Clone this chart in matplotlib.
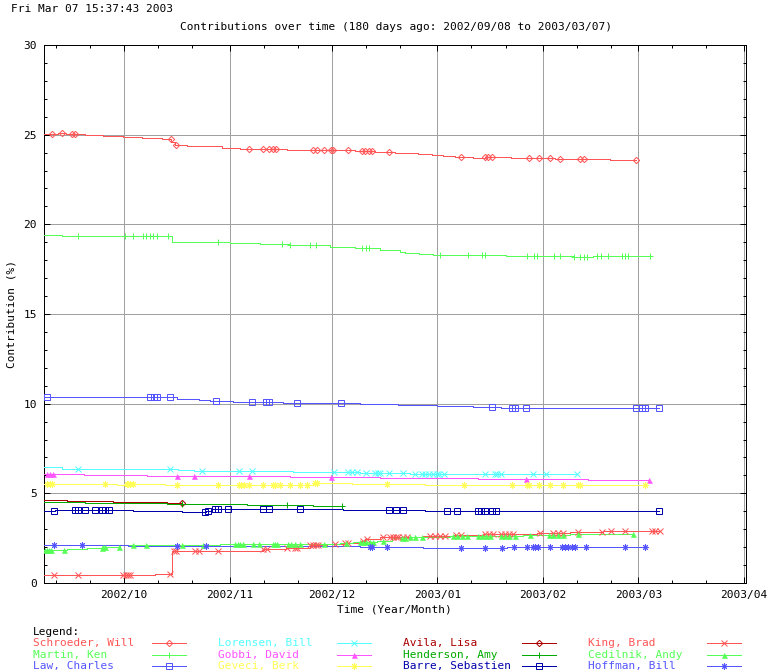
import numpy as np
import matplotlib
matplotlib.use("Agg")
import matplotlib.pyplot as plt
import matplotlib.dates as mdates
from matplotlib.lines import Line2D
from matplotlib.ticker import FixedLocator
from datetime import datetime

plt.rcParams['font.family'] = ['DejaVu Sans Mono']
FS = 8
LW = 0.72  # one pixel at 100 dpi

START = datetime(2002, 9, 8)

# ---------------- data (days since 2002/09/08, contribution %) ----------------
authors = ["Schroeder, Will", "Martin, Ken", "Law, Charles",
           "Lorensen, Bill", "Gobbi, David", "Geveci, Berk",
           "Avila, Lisa", "Henderson, Amy", "Barre, Sebastien",
           "King, Brad", "Cedilnik, Andy", "Hoffman, Bill"]

schroeder_days = [-0.5, 3.6, 6.0, 11.5, 16.8, 22.7, 28.3, 34.1, 36.8, 37.9, 41.5, 51.7, 57.0, 70.8,
                  90.8, 96.7, 102.5, 106.0, 109.3, 113.4, 116.6, 120.1, 125.4, 128.9, 136.6, 149.5,
                  165.6, 173.3]
schroeder_vals = [25.02, 25.08, 25.02, 24.97, 24.91, 24.86, 24.80, 24.75, 24.60, 24.43, 24.36, 24.23,
                  24.19, 24.13, 24.08, 24.04, 24.00, 23.96, 23.91, 23.85, 23.80, 23.74, 23.69, 23.74,
                  23.69, 23.63, 23.58, 23.58]
schroeder_marks = [1.8, 4.7, 7.6, 8.6, 36.7, 38.4, 59.7, 63.8, 65.5, 66.7, 67.6, 78.5, 79.6, 81.7,
                   83.7, 84.3, 88.7, 92.8, 93.7, 94.9, 95.8, 100.8, 121.9, 129.1, 129.9, 131.1, 142.0,
                   144.9, 148.1, 151.1, 156.9, 158.1, 173.3]

martin_days = [-0.5, 4.8, 37.1, 54.1, 62.9, 71.7, 83.4, 90.8, 98.1, 104.0, 105.5, 109.7, 113.7,
               135.1, 154.8, 160.6, 177.4]
martin_vals = [19.38, 19.33, 19.02, 18.96, 18.90, 18.82, 18.74, 18.66, 18.55, 18.44, 18.39, 18.33,
               18.28, 18.22, 18.17, 18.22, 18.22]
martin_marks = [9.6, 23.3, 25.6, 28.6, 29.4, 30.6, 31.6, 32.8, 36.0, 50.6, 69.4, 71.7, 77.6, 79.3,
                92.8, 94.0, 94.9, 115.8, 124.0, 128.0, 129.0, 141.2, 143.3, 144.1, 149.1, 151.0,
                155.1, 157.0, 158.1, 158.9, 162.0, 163.1, 165.1, 169.1, 170.2, 171.0, 177.3]

law_days = [-0.5, 38.5, 45.0, 48.2, 55.0, 69.7, 92.3, 103.4, 114.9, 125.4, 133.6, 180.1]
law_vals = [10.36, 10.27, 10.21, 10.13, 10.08, 10.02, 9.97, 9.91, 9.85, 9.80, 9.74, 9.74]
law_marks = [0.5, 30.6, 31.8, 32.7, 36.6, 49.9, 60.6, 64.7, 65.6, 73.8, 86.8, 131.1, 136.9, 137.8,
             141.1, 173.2, 175.0, 176.0, 180.1]

lorensen_days = [-0.5, 4.8, 22.7, 38.8, 43.5, 72.6, 92.3, 106.9, 156.0]
lorensen_vals = [6.45, 6.38, 6.34, 6.29, 6.23, 6.17, 6.12, 6.06, 6.06]
lorensen_marks = [9.6, 36.6, 45.8, 56.8, 60.6, 84.6, 88.7, 89.9, 91.4, 94.0, 96.6, 97.5, 98.1, 100.8,
                  104.9, 108.4, 110.4, 111.4, 112.6, 113.8, 114.8, 115.5, 117.0, 128.9, 131.9, 132.5,
                  133.8, 143.1, 146.9, 156.0]

gobbi_days = [-0.5, 11.2, 29.7, 71.7, 98.1, 126.9, 159.2, 177.2]
gobbi_vals = [6.06, 6.01, 5.95, 5.90, 5.84, 5.78, 5.73, 5.73]
gobbi_marks = [0.4, 1.3, 2.2, 38.6, 43.6, 59.8, 83.9, 141.1, 177.2]

geveci_days = [-0.5, 20.9, 23.3, 28.6, 35.0, 78.5, 89.9, 111.3, 176.0]
geveci_vals = [5.50, 5.45, 5.52, 5.50, 5.45, 5.56, 5.50, 5.45, 5.45]
geveci_marks = [0.4, 1.3, 1.8, 17.4, 23.8, 24.2, 24.7, 25.7, 38.6, 50.7, 56.7, 57.3, 58.2, 59.7,
                63.9, 66.7, 67.3, 68.8, 71.7, 74.6, 76.6, 79.0, 79.6, 100.1, 122.8, 137.0, 141.2,
                142.0, 144.8, 148.0, 151.9, 156.2, 156.8, 176.0]

avila_days = [-0.5, 6.3, 19.8, 35.6, 39.9]
avila_vals = [4.61, 4.56, 4.50, 4.45, 4.45]
avila_marks = [39.9]

henderson_days = [-0.5, 11.5, 35.6, 59.1, 78.5, 86.9]
henderson_vals = [4.50, 4.45, 4.39, 4.33, 4.28, 4.28]
henderson_marks = [39.9, 70.9, 86.9]

barre_days = [-0.5, 2.7, 25.6, 40.0, 47.2, 48.8, 87.3, 111.3, 180.1]
barre_vals = [4.00, 4.05, 4.00, 3.94, 4.00, 4.11, 4.05, 4.00, 4.00]
barre_marks = [2.5, 8.6, 9.6, 11.5, 14.5, 16.4, 17.4, 18.6, 46.8, 47.7, 49.7, 50.7, 53.6, 63.9,
               65.6, 74.6, 100.8, 102.8, 105.0, 117.9, 120.8, 126.9, 127.8, 128.9, 130.9, 132.1,
               180.1]

king_days = [-0.5, 32.1, 37.1, 63.8, 70.5, 77.6, 82.6, 87.3, 92.3, 93.7, 98.1, 110.8, 119.6,
             128.4, 144.2, 153.9, 163.6, 180.3]
king_vals = [0.45, 0.50, 1.80, 1.91, 1.95, 2.10, 2.18, 2.25, 2.36, 2.47, 2.57, 2.64, 2.69, 2.73,
             2.77, 2.83, 2.88, 2.88]
king_marks = [2.4, 9.6, 22.7, 23.6, 24.2, 24.7, 36.5, 37.7, 38.4, 43.8, 45.1, 50.7, 63.9, 64.9,
              70.9, 73.2, 73.7, 77.6, 78.5, 79.3, 80.0, 84.9, 87.8, 88.8, 93.1, 94.2, 99.1, 101.1,
              101.9, 102.8, 103.4, 105.0, 106.0, 112.8, 114.3, 115.7, 117.2, 120.6, 121.9, 128.9,
              130.1, 131.2, 133.8, 134.8, 136.0, 137.2, 145.1, 148.9, 150.4, 151.9, 156.3, 163.2,
              165.9, 170.2, 177.9, 178.8, 180.3]

cedilnik_days = [-0.5, 6.3, 12.1, 16.8, 21.8, 51.2, 74.6, 86.4, 90.2, 97.2, 101.6, 106.9, 118.7,
                 140.1, 153.9, 172.5]
cedilnik_vals = [1.82, 1.88, 1.94, 2.03, 2.10, 2.16, 2.19, 2.22, 2.30, 2.36, 2.49, 2.57, 2.62, 2.68,
                 2.73, 2.73]
cedilnik_marks = [-0.2, 0.4, 1.0, 1.6, 5.4, 16.4, 16.9, 17.4, 21.6, 25.7, 29.4, 39.9, 46.3, 55.6,
                  56.4, 57.0, 57.9, 60.9, 62.7, 66.7, 67.3, 67.9, 71.1, 72.0, 73.2, 74.6, 81.7, 88.1,
                  92.3, 93.1, 94.0, 95.2, 96.1, 99.1, 104.5, 105.5, 106.9, 108.4, 110.4, 119.6,
                  120.7, 122.2, 123.7, 126.9, 128.1, 129.2, 130.4, 133.8, 134.8, 136.0, 137.8,
                  142.2, 147.7, 148.9, 150.4, 151.9, 156.3, 172.5]

hoffman_days = [-0.5, 24.2, 92.3, 110.8, 135.4, 176.0]
hoffman_vals = [2.10, 2.05, 2.01, 1.94, 1.99, 1.99]
hoffman_marks = [2.4, 10.7, 38.6, 47.0, 95.2, 95.8, 100.1, 121.9, 128.9, 134.0, 137.5, 141.2,
                 143.0, 143.6, 144.5, 148.0, 151.5, 152.4, 153.3, 154.5, 155.4, 158.6, 170.1, 176.0]

colors = ["#ff5555", "#55ff55", "#5555ff", "#55ffff", "#ff55ff", "#ffff55",
          "#aa0000", "#00aa00", "#0000aa", "#ff5555", "#55ff55", "#5555ff"]

series = [
    (schroeder_days, schroeder_vals, schroeder_marks),
    (martin_days, martin_vals, martin_marks),
    (law_days, law_vals, law_marks),
    (lorensen_days, lorensen_vals, lorensen_marks),
    (gobbi_days, gobbi_vals, gobbi_marks),
    (geveci_days, geveci_vals, geveci_marks),
    (avila_days, avila_vals, avila_marks),
    (henderson_days, henderson_vals, henderson_marks),
    (barre_days, barre_vals, barre_marks),
    (king_days, king_vals, king_marks),
    (cedilnik_days, cedilnik_vals, cedilnik_marks),
    (hoffman_days, hoffman_vals, hoffman_marks),
]

ASTER = (8, 2, 0)
mstyles = [
    dict(marker='D', ms=3.2, mfc='none', mew=LW),
    dict(marker='+', ms=5.0, mew=LW),
    dict(marker='s', ms=3.8, mfc='none', mew=LW),
    dict(marker='x', ms=3.8, mew=LW),
    dict(marker='^', ms=3.6, mew=0.4),
    dict(marker=ASTER, ms=4.6, mew=LW),
]
mstyles = mstyles + mstyles

# ---------------- figure ----------------
W, H = 768, 672
fig = plt.figure(figsize=(W / 100, H / 100), dpi=100)


def fx(x):
    return x / W


def fy(y):
    return 1 - y / H


L, R, T, B = 44, 746, 45, 583
ax = fig.add_axes([fx(L), fy(B), (R - L) / W, (B - T) / H])

base = mdates.date2num(START)


def to_num(d):
    return base + np.asarray(d, dtype=float)


for (days, vals, marks), col, st in zip(series, colors, mstyles):
    days_a = np.asarray(days, dtype=float)
    vals_a = np.asarray(vals, dtype=float)
    ax.plot(to_num(days_a), vals_a, drawstyle='steps-post', color=col, lw=LW,
            antialiased=False, zorder=3)
    marks_a = np.asarray(marks, dtype=float)
    idx = np.clip(np.searchsorted(days_a, marks_a, side='right') - 1, 0, len(vals_a) - 1)
    ax.plot(to_num(marks_a), vals_a[idx], ls='none', color=col, zorder=4, **st)

# axes limits
ax.set_xlim(base - 0.5, base + 205.6)
ax.set_ylim(0, 30)

# ticks
month_starts = [datetime(2002, 10, 1), datetime(2002, 11, 1), datetime(2002, 12, 1),
                datetime(2003, 1, 1), datetime(2003, 2, 1), datetime(2003, 3, 1),
                datetime(2003, 4, 1)]
minor_dates = []
for (yy, mm) in [(2002, 9), (2002, 10), (2002, 11), (2002, 12), (2003, 1), (2003, 2), (2003, 3)]:
    minor_dates += [datetime(yy, mm, 11), datetime(yy, mm, 21)]
ax.xaxis.set_major_locator(FixedLocator(mdates.date2num(month_starts)))
ax.xaxis.set_minor_locator(FixedLocator(mdates.date2num(minor_dates)))
ax.xaxis.set_major_formatter(mdates.DateFormatter('%Y/%m'))
ax.yaxis.set_major_locator(FixedLocator(np.arange(0, 31, 5)))
ax.yaxis.set_minor_locator(FixedLocator(np.arange(0, 31, 1)))

ax.tick_params(which='both', direction='in', top=True, right=True, width=LW,
               labelsize=FS, colors='black')
ax.tick_params(which='major', length=4.5, pad=5)
ax.tick_params(which='minor', length=2.2)
for sp in ax.spines.values():
    sp.set_linewidth(LW)
    sp.set_color('black')
    sp.set_antialiased(False)

ax.grid(True, which='major', color='#a0a0a0', lw=LW, antialiased=False)
ax.set_axisbelow(True)

# texts
fig.text(fx(11), fy(9), "Fri Mar 07 15:37:43 2003", fontsize=FS, ha='left', va='center')
fig.text(fx(396), fy(27), "Contributions over time (180 days ago: 2002/09/08 to 2003/03/07)",
         fontsize=FS, ha='center', va='center')
fig.text(fx(12), fy(314), "Contribution (%)", fontsize=FS, ha='center', va='center',
         rotation=90)
fig.text(fx(394), fy(610), "Time (Year/Month)", fontsize=FS, ha='center', va='center')

# legend (manual, gnuplot style)
fig.text(fx(33), fy(632), "Legend:", fontsize=FS, ha='left', va='center')
col_text_x = [33, 218, 403, 588]
col_line_x = [(152, 186), (337, 371), (522, 556), (707, 741)]
row_y = [643, 655, 666]
for i, name in enumerate(authors):
    c, r = divmod(i, 3)
    y = row_y[r]
    fig.text(fx(col_text_x[c]), fy(y), name, fontsize=FS, ha='left', va='center',
             color=colors[i])
    x1, x2 = col_line_x[c]
    fig.add_artist(Line2D([fx(x1), fx(x2)], [fy(y), fy(y)], transform=fig.transFigure,
                          color=colors[i], lw=LW, antialiased=False))
    fig.add_artist(Line2D([fx((x1 + x2) / 2)], [fy(y)], transform=fig.transFigure,
                          color=colors[i], ls='none', **mstyles[i]))

fig.savefig("out.png", dpi=100)
